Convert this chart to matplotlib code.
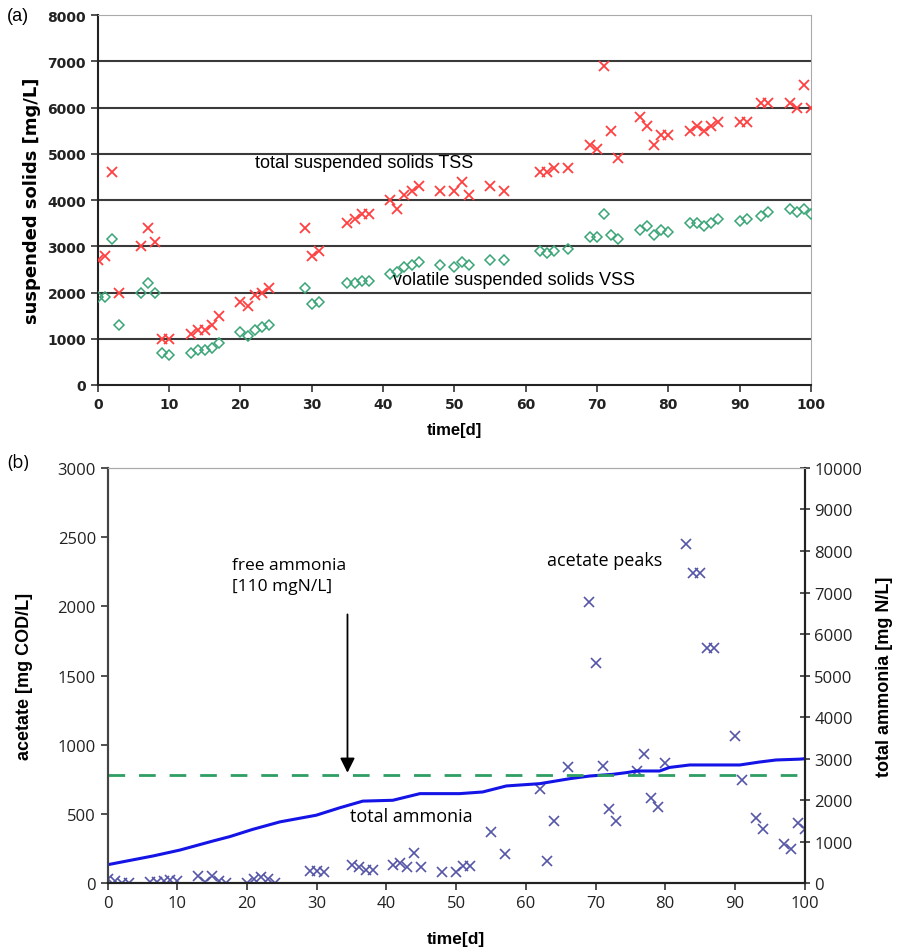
import matplotlib
matplotlib.use('Agg')
import matplotlib.pyplot as plt

# (a) suspended solids
tss_day = [0, 1, 2, 3, 6, 7, 8, 9, 10, 13, 14, 15, 16, 17, 20, 21, 22, 23, 24,
           29, 30, 31, 35, 36, 37, 38, 41, 42, 43, 44, 45, 48, 50, 51, 52, 55, 57,
           62, 63, 64, 66, 69, 70, 71, 72, 73, 76, 77, 78, 79, 80, 83, 84, 85, 86, 87,
           90, 91, 93, 94, 97, 98, 99, 100]
tss = [2700, 2800, 4600, 2000, 3000, 3400, 3100, 1000, 1000, 1100, 1200, 1200, 1300, 1500,
       1800, 1700, 1950, 2000, 2100, 3400, 2800, 2900, 3500, 3600, 3700, 3700, 4000, 3800,
       4100, 4200, 4300, 4200, 4200, 4400, 4100, 4300, 4200, 4600, 4600, 4700, 4700, 5200,
       5100, 6900, 5500, 4900, 5800, 5600, 5200, 5400, 5400, 5500, 5600, 5500, 5600, 5700,
       5700, 5700, 6100, 6100, 6100, 6000, 6500, 6000]
vss = [1900, 1900, 3150, 1300, 2000, 2200, 2000, 700, 650, 700, 750, 750, 800, 900,
       1150, 1050, 1200, 1250, 1300, 2100, 1750, 1800, 2200, 2200, 2250, 2250, 2400, 2450,
       2550, 2600, 2650, 2600, 2550, 2650, 2600, 2700, 2700, 2900, 2850, 2900, 2950, 3200,
       3200, 3700, 3250, 3150, 3350, 3450, 3250, 3350, 3300, 3500, 3500, 3450, 3500, 3600,
       3550, 3600, 3650, 3750, 3800, 3750, 3800, 3700]

# (b) acetate and total ammonia
ac_day = [0, 1, 2, 3, 6, 7, 8, 9, 10, 13, 14, 15, 16, 17, 20, 21, 22, 23, 24,
          29, 30, 31, 35, 36, 37, 38, 41, 42, 43, 44, 45, 48, 50, 51, 52, 55, 57,
          62, 63, 64, 66, 69, 70, 71, 72, 73, 76, 77, 78, 79, 80, 83, 84, 85, 86, 87,
          90, 91, 93, 94, 97, 98, 99, 100]
acetate = [30, 15, 5, 5, 10, 10, 15, 25, 15, 50, 10, 50, 15, 5, 0, 30, 45, 35, 0,
           90, 90, 80, 130, 120, 95, 100, 130, 145, 120, 220, 115, 85, 85, 125, 125, 370, 210,
           683, 160, 450, 840, 2030, 1590, 846, 539, 450, 810, 931, 618, 553, 866, 2450, 2240,
           2240, 1700, 1700, 1063, 750, 474, 390, 281, 245, 438, 395]
nh_day = [0, 6.5, 10.3, 15.1, 17.5, 20.8, 24.7, 29.9, 33.3, 36.6, 40.9, 44.8, 50.5, 53.8,
          57.2, 62.0, 66.3, 69.2, 72.5, 74.4, 75.9, 79.2, 80.6, 83.5, 90.7, 93.5, 95.9, 99.3, 100]
nh_total = [450, 660, 800, 1020, 1125, 1300, 1480, 1640, 1820, 1980, 2000, 2160, 2160, 2200,
            2345, 2400, 2520, 2585, 2625, 2665, 2705, 2705, 2790, 2850, 2850, 2920, 2970, 2990, 3000]
nh_limit = 2600

fig = plt.figure(figsize=(8.98, 9.53), dpi=100)

# ---------- panel a ----------
ax1 = fig.add_axes([0.109, 0.595, 0.794, 0.388])
for v in range(1000, 8000, 1000):
    ax1.axhline(v, color='#3a3a3a', lw=1.5, zorder=1)
ax1.plot(tss_day, tss, 'x', color='#ff4040', ms=6.5, mew=1.3, zorder=3)
ax1.plot(tss_day, vss, 'D', mfc='none', mec='#3aa577', ms=5, mew=1.1, zorder=3)
ax1.set_xlim(0, 100)
ax1.set_ylim(0, 8000)
ax1.set_xticks(range(0, 101, 10))
ax1.set_yticks(range(0, 8001, 1000))
ax1.tick_params(direction='out', length=5, width=1.2, color='#333333')
for lab in ax1.get_xticklabels() + ax1.get_yticklabels():
    lab.set_fontfamily('DejaVu Sans')
    lab.set_fontweight('bold')
    lab.set_fontsize(10)
    lab.set_color('#222222')
ax1.spines['left'].set_color('#222222')
ax1.spines['left'].set_linewidth(1.5)
ax1.spines['bottom'].set_color('#222222')
ax1.spines['bottom'].set_linewidth(1.5)
ax1.spines['top'].set_color('#aaaaaa')
ax1.spines['right'].set_color('#aaaaaa')
ax1.set_xlabel('time[d]', fontfamily='Liberation Sans', fontweight='bold', fontsize=12, labelpad=8)
ax1.set_ylabel('suspended solids [mg/L]', fontfamily='DejaVu Sans', fontweight='bold', fontsize=13, labelpad=5)
ax1.text(22, 4820, 'total suspended solids TSS', fontfamily='Liberation Sans', fontsize=13, va='center')
ax1.text(41.4, 2290, 'volatile suspended solids VSS', fontfamily='Liberation Sans', fontsize=13, va='center')
fig.text(0.008, 0.983, '(a)', fontfamily='Liberation Sans', fontsize=13, va='center')

# ---------- panel b ----------
ax2 = fig.add_axes([0.120, 0.072, 0.776, 0.436])
ax2.plot(ac_day, acetate, 'x', color='#5656a8', ms=7, mew=1.2, zorder=3)
ax2.set_xlim(0, 100)
ax2.set_ylim(0, 3000)
ax2.set_xticks(range(0, 101, 10))
ax2.set_yticks(range(0, 3001, 500))
ax2.tick_params(direction='out', length=5, width=1.2, color='#333333', labelsize=12)
ax3 = ax2.twinx()
ax3.plot(nh_day, nh_total, '-', color='#1414e6', lw=2.2, zorder=2)
ax3.axhline(nh_limit, color='#2e9e63', lw=2, ls=(0, (6, 5)), zorder=2)
ax3.set_ylim(0, 10000)
ax3.set_yticks(range(0, 10001, 1000))
ax3.tick_params(direction='inout', length=7, width=1.2, color='#333333', labelsize=12)
for a in (ax2, ax3):
    for lab in a.get_xticklabels() + a.get_yticklabels():
        lab.set_fontfamily('Open Sans')
        lab.set_color('#222222')
    a.spines['top'].set_color('#aaaaaa')
    a.spines['left'].set_color('#444444')
    a.spines['left'].set_linewidth(1.5)
    a.spines['bottom'].set_color('#222222')
    a.spines['bottom'].set_linewidth(1.5)
    a.spines['right'].set_color('#222222')
    a.spines['right'].set_linewidth(1.5)
ax2.set_xlabel('time[d]', fontfamily='Liberation Sans', fontweight='bold', fontsize=12.5, labelpad=14)
ax2.set_ylabel('acetate [mg COD/L]', fontfamily='Liberation Sans', fontweight='bold', fontsize=13, labelpad=18)
ax3.set_ylabel('total ammonia [mg N/L]', fontfamily='Liberation Sans', fontweight='bold', fontsize=13, labelpad=10)

ax2.annotate('', xy=(34.4, 779), xytext=(34.4, 1962),
             arrowprops=dict(arrowstyle='-|>', color='black', lw=1.3, mutation_scale=22))
ax2.text(17.8, 2360, 'free ammonia\n[110 mgN/L]', fontfamily='Open Sans', fontsize=12.5,
         va='top', linespacing=1.45)
ax2.text(63.1, 2338, 'acetate peaks', fontfamily='Open Sans', fontsize=13, va='center')
ax2.text(34.8, 490, 'total ammonia', fontfamily='Open Sans', fontsize=13, va='center')
fig.text(0.008, 0.514, '(b)', fontfamily='Open Sans', fontsize=13, va='center')

fig.savefig('out.png', dpi=100)
